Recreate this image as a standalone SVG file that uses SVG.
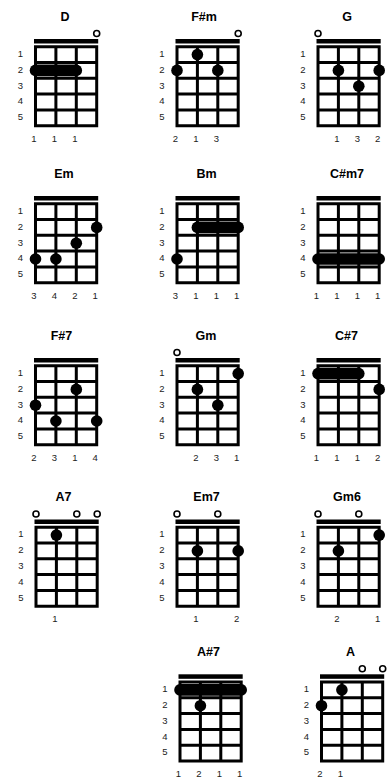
<svg xmlns="http://www.w3.org/2000/svg" xmlns:xlink="http://www.w3.org/1999/xlink" width="389" height="779" viewBox="0 0 389 779">
<style>
text{font-family:"Liberation Sans",Arial,sans-serif;fill:#000}
.t{font-size:12.5px;font-weight:bold;text-anchor:middle}
.fl{font-size:9.5px;text-anchor:middle;fill:#222}
.fn{font-size:9.5px;text-anchor:middle;fill:#222}
.g{fill:none;stroke:#000;stroke-width:3}
.nut{fill:#000}
.d{fill:#000}
.o{fill:#fff;stroke:#000;stroke-width:1.6}
</style>
<defs>
<g id="grid">
<rect class="nut" x="-1.5" y="0" width="64.2" height="4.5"/>
<path class="g" d="M0 7.7H61.2V86.7H0Z M20.4 7.7V86.7 M40.8 7.7V86.7 M0 23.5H61.2 M0 39.3H61.2 M0 55.1H61.2 M0 70.9H61.2"/>
<text class="fl" x="-15" y="17.9">1</text>
<text class="fl" x="-15" y="33.7">2</text>
<text class="fl" x="-15" y="49.5">3</text>
<text class="fl" x="-15" y="65.3">4</text>
<text class="fl" x="-15" y="81.1">5</text>
</g>
</defs>
<rect width="389" height="779" fill="#fff"/>
<g id="connectors"/>

<g id="chord-D" transform="translate(35.5,39)">
<text class="t" x="29.5" y="-18.5">D</text>
<use xlink:href="#grid" href="#grid"/>
<circle class="o" cx="61.2" cy="-5.5" r="3"/>
<rect class="d" x="-5.8" y="25.6" width="52.4" height="11.6" rx="5.8"/>
<text class="fn" x="-1.5" y="102.5">1</text><text class="fn" x="18.9" y="102.5">1</text><text class="fn" x="39.3" y="102.5">1</text>
</g>

<g id="chord-Fsm" transform="translate(177,39)">
<text class="t" x="27" y="-18.5">F#m</text>
<use xlink:href="#grid" href="#grid"/>
<circle class="o" cx="61.2" cy="-5.5" r="3"/>
<circle class="d" cx="20.4" cy="15.6" r="5.8"/>
<circle class="d" cx="0" cy="31.4" r="5.8"/>
<circle class="d" cx="40.8" cy="31.4" r="5.8"/>
<text class="fn" x="-1.5" y="102.5">2</text><text class="fn" x="18.9" y="102.5">1</text><text class="fn" x="39.3" y="102.5">3</text>
</g>

<g id="chord-G" transform="translate(318,39)">
<text class="t" x="29" y="-18.5">G</text>
<use xlink:href="#grid" href="#grid"/>
<circle class="o" cx="0" cy="-5.5" r="3"/>
<circle class="d" cx="20.4" cy="31.4" r="5.8"/>
<circle class="d" cx="61.2" cy="31.4" r="5.8"/>
<circle class="d" cx="40.8" cy="47.2" r="5.8"/>
<text class="fn" x="18.9" y="102.5">1</text><text class="fn" x="39.3" y="102.5">3</text><text class="fn" x="59.7" y="102.5">2</text>
</g>

<g id="chord-Em" transform="translate(35.5,196)">
<text class="t" x="28.5" y="-18.5">Em</text>
<use xlink:href="#grid" href="#grid"/>
<circle class="d" cx="0" cy="63" r="5.8"/>
<circle class="d" cx="20.4" cy="63" r="5.8"/>
<circle class="d" cx="40.8" cy="47.2" r="5.8"/>
<circle class="d" cx="61.2" cy="31.4" r="5.8"/>
<text class="fn" x="-1.5" y="102.5">3</text><text class="fn" x="18.9" y="102.5">4</text><text class="fn" x="39.3" y="102.5">2</text><text class="fn" x="59.7" y="102.5">1</text>
</g>

<g id="chord-Bm" transform="translate(177,196)">
<text class="t" x="29.5" y="-18.5">Bm</text>
<use xlink:href="#grid" href="#grid"/>
<rect class="d" x="14.6" y="25.6" width="52.4" height="11.6" rx="5.8"/>
<circle class="d" cx="0" cy="63" r="5.8"/>
<text class="fn" x="-1.5" y="102.5">3</text><text class="fn" x="18.9" y="102.5">1</text><text class="fn" x="39.3" y="102.5">1</text><text class="fn" x="59.7" y="102.5">1</text>
</g>

<g id="chord-Csm7" transform="translate(318,196)">
<text class="t" x="29" y="-18.5">C#m7</text>
<use xlink:href="#grid" href="#grid"/>
<rect class="d" x="-5.8" y="57.2" width="72.8" height="11.6" rx="5.8"/>
<text class="fn" x="-1.5" y="102.5">1</text><text class="fn" x="18.9" y="102.5">1</text><text class="fn" x="39.3" y="102.5">1</text><text class="fn" x="59.7" y="102.5">1</text>
</g>

<g id="chord-Fs7" transform="translate(35.5,358)">
<text class="t" x="26" y="-18.5">F#7</text>
<use xlink:href="#grid" href="#grid"/>
<circle class="d" cx="0" cy="47.2" r="5.8"/>
<circle class="d" cx="20.4" cy="63" r="5.8"/>
<circle class="d" cx="40.8" cy="31.4" r="5.8"/>
<circle class="d" cx="61.2" cy="63" r="5.8"/>
<text class="fn" x="-1.5" y="102.5">2</text><text class="fn" x="18.9" y="102.5">3</text><text class="fn" x="39.3" y="102.5">1</text><text class="fn" x="59.7" y="102.5">4</text>
</g>

<g id="chord-Gm" transform="translate(177,358)">
<text class="t" x="29" y="-18.5">Gm</text>
<use xlink:href="#grid" href="#grid"/>
<circle class="o" cx="0" cy="-5.5" r="3"/>
<circle class="d" cx="20.4" cy="31.4" r="5.8"/>
<circle class="d" cx="40.8" cy="47.2" r="5.8"/>
<circle class="d" cx="61.2" cy="15.6" r="5.8"/>
<text class="fn" x="18.9" y="102.5">2</text><text class="fn" x="39.3" y="102.5">3</text><text class="fn" x="59.7" y="102.5">1</text>
</g>

<g id="chord-Cs7" transform="translate(318,358)">
<text class="t" x="28.5" y="-18.5">C#7</text>
<use xlink:href="#grid" href="#grid"/>
<rect class="d" x="-5.8" y="9.8" width="52.4" height="11.6" rx="5.8"/>
<circle class="d" cx="61.2" cy="31.4" r="5.8"/>
<text class="fn" x="-1.5" y="102.5">1</text><text class="fn" x="18.9" y="102.5">1</text><text class="fn" x="39.3" y="102.5">1</text><text class="fn" x="59.7" y="102.5">2</text>
</g>

<g id="chord-A7" transform="translate(36,519.5)">
<text class="t" x="27.5" y="-18.5">A7</text>
<use xlink:href="#grid" href="#grid"/>
<circle class="o" cx="0" cy="-5.5" r="3"/>
<circle class="o" cx="40.8" cy="-5.5" r="3"/>
<circle class="o" cx="61.2" cy="-5.5" r="3"/>
<circle class="d" cx="20.4" cy="15.6" r="5.8"/>
<text class="fn" x="18.9" y="102.5">1</text>
</g>

<g id="chord-Em7" transform="translate(177,519.5)">
<text class="t" x="29.5" y="-18.5">Em7</text>
<use xlink:href="#grid" href="#grid"/>
<circle class="o" cx="0" cy="-5.5" r="3"/>
<circle class="o" cx="40.8" cy="-5.5" r="3"/>
<circle class="d" cx="20.4" cy="31.4" r="5.8"/>
<circle class="d" cx="61.2" cy="31.4" r="5.8"/>
<text class="fn" x="18.9" y="102.5">1</text><text class="fn" x="59.7" y="102.5">2</text>
</g>

<g id="chord-Gm6" transform="translate(318,519.5)">
<text class="t" x="29" y="-18.5">Gm6</text>
<use xlink:href="#grid" href="#grid"/>
<circle class="o" cx="0" cy="-5.5" r="3"/>
<circle class="o" cx="40.8" cy="-5.5" r="3"/>
<circle class="d" cx="20.4" cy="31.4" r="5.8"/>
<circle class="d" cx="61.2" cy="15.6" r="5.8"/>
<text class="fn" x="18.9" y="102.5">2</text><text class="fn" x="59.7" y="102.5">1</text>
</g>

<g id="chord-As7" transform="translate(180,674.3)">
<text class="t" x="28.5" y="-18.5">A#7</text>
<use xlink:href="#grid" href="#grid"/>
<rect class="d" x="-5.8" y="9.8" width="72.8" height="11.6" rx="5.8"/>
<circle class="d" cx="20.4" cy="31.4" r="5.8"/>
<text class="fn" x="-1.5" y="102.5">1</text><text class="fn" x="18.9" y="102.5">2</text><text class="fn" x="39.3" y="102.5">1</text><text class="fn" x="59.7" y="102.5">1</text>
</g>

<g id="chord-A" transform="translate(321.5,674.3)">
<text class="t" x="29" y="-18.5">A</text>
<use xlink:href="#grid" href="#grid"/>
<circle class="o" cx="40.8" cy="-5.5" r="3"/>
<circle class="o" cx="61.2" cy="-5.5" r="3"/>
<circle class="d" cx="0" cy="31.4" r="5.8"/>
<circle class="d" cx="20.4" cy="15.6" r="5.8"/>
<text class="fn" x="-1.5" y="102.5">2</text><text class="fn" x="18.9" y="102.5">1</text>
</g>
</svg>
